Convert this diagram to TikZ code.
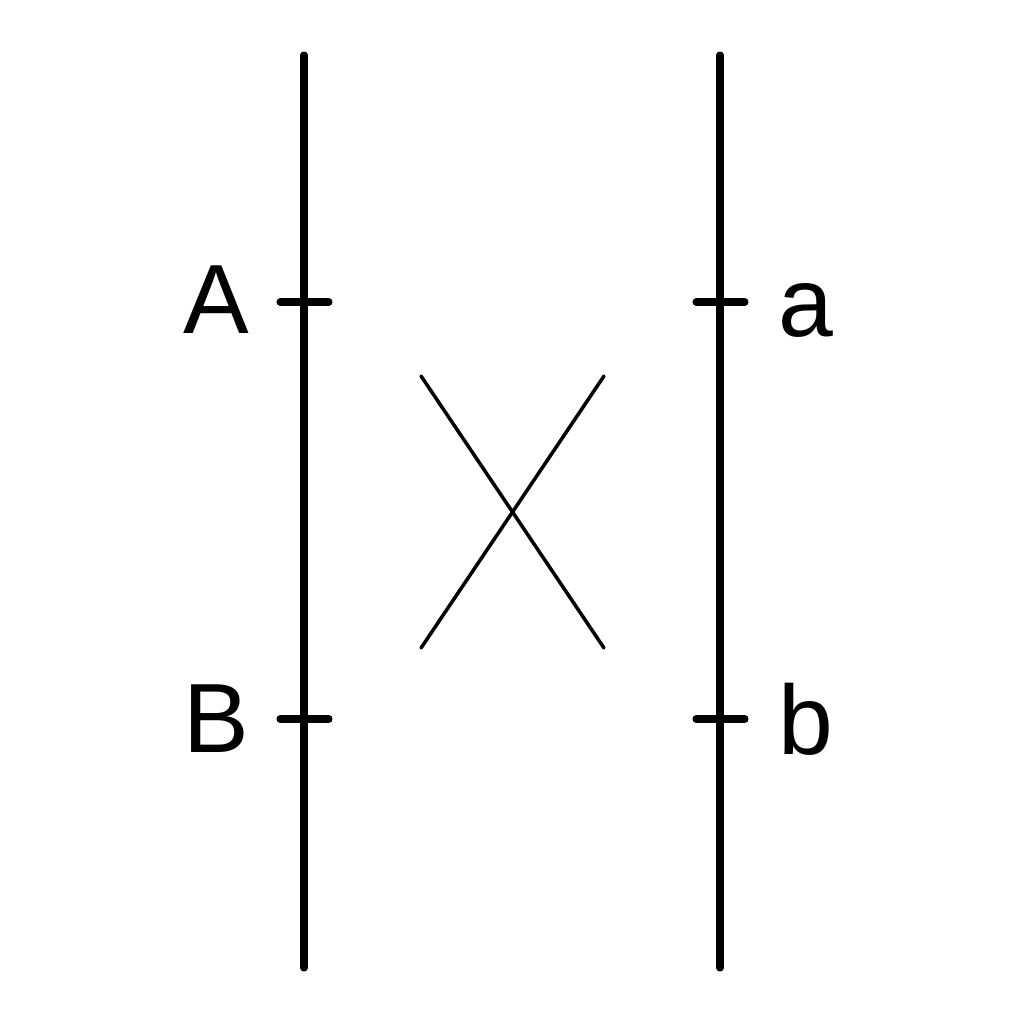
\documentclass[tikz,border=0pt]{standalone}
\usepackage{fontspec}
\setmainfont{Liberation Sans}
\begin{document}
\begin{tikzpicture}[x=0.01cm,y=-0.01cm,
  rail/.style={line width=2pt,line cap=round},
  tick/.style={line width=2pt,line cap=round},
  cross/.style={line width=1pt,line cap=round},
  lbl/.style={font=\fontsize{28}{30}\selectfont,inner sep=0pt}]
\useasboundingbox (0,0) rectangle (1024,1024);
\coordinate (L1) at (304,55); \coordinate (L2) at (304,968);
\coordinate (R1) at (720,55); \coordinate (R2) at (720,968);
\draw[rail] (L1) -- (L2);
\draw[rail] (R1) -- (R2);
\coordinate (tA1) at (280,302); \coordinate (tA2) at (329,302);
\coordinate (tB1) at (280,719); \coordinate (tB2) at (329,719);
\coordinate (ta1) at (696,302); \coordinate (ta2) at (745,302);
\coordinate (tb1) at (696,719); \coordinate (tb2) at (745,719);
\draw[tick] (tA1) -- (tA2);
\draw[tick] (tB1) -- (tB2);
\draw[tick] (ta1) -- (ta2);
\draw[tick] (tb1) -- (tb2);
\node[lbl] (A) at (216,300) {A};
\node[lbl] (B) at (216,719) {B};
\node[lbl] (a) at (806,310) {a};
\node[lbl] (b) at (806,719) {b};
\coordinate (x1) at (421,376); \coordinate (x2) at (604,648);
\coordinate (x3) at (604,376); \coordinate (x4) at (421,648);
\draw[cross] (x1) -- (x2);
\draw[cross] (x3) -- (x4);
\end{tikzpicture}
\end{document}
